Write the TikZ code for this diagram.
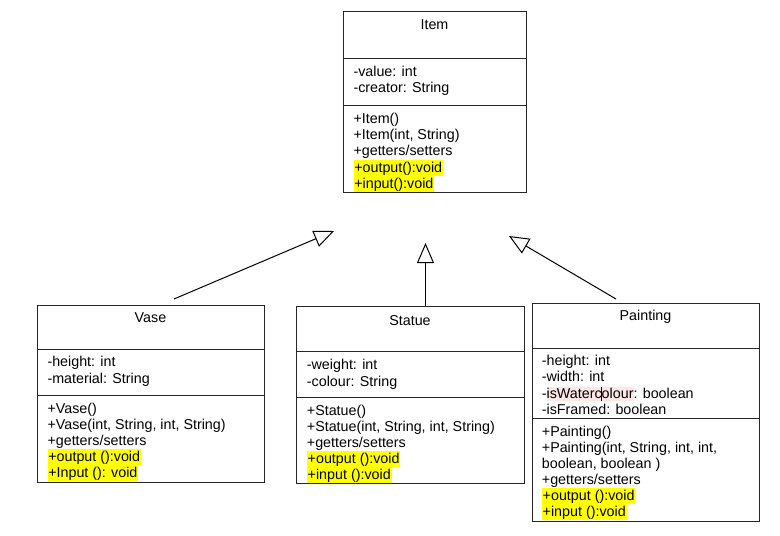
\documentclass[tikz,border=0pt]{standalone}
\usepackage{fontspec}
\setmainfont{Liberation Sans}
\usetikzlibrary{arrows.meta}
\definecolor{hlyellow}{RGB}{255,255,0}
\definecolor{hlpink}{RGB}{252,230,230}
\newcommand\pinkmark[1]{{\setlength\fboxsep{0pt}\colorbox{hlpink}{\vphantom{Ay}#1}}}
\begin{document}
\begin{tikzpicture}[x=1pt,y=-1pt,
 umlbox/.style={draw=black!85, line width=0.8pt, inner sep=0, anchor=north west},
 divider/.style={draw=black!85, line width=0.8pt},
 txt/.style={anchor=base west, inner sep=0, font=\fontsize{14.3}{16}\selectfont},
 ttl/.style={anchor=base, inner sep=0, font=\fontsize{14.3}{16}\selectfont},
 hl/.style={fill=hlyellow, inner xsep=0.8pt, inner ysep=0, text height=12.5pt, text depth=3.7pt},
 inh/.style={line width=1pt, -{Triangle[open, length=20pt, width=17pt, line width=1pt]}}]
\useasboundingbox (0,0) rectangle (780,536);
% Item
\node[umlbox, minimum width=183pt, minimum height=181.5pt] (item) at (343,10.5) {};
\draw[divider] ([yshift=-47.5pt]item.north west) -- ([yshift=-47.5pt]item.north east);
\draw[divider] ([yshift=-94.5pt]item.north west) -- ([yshift=-94.5pt]item.north east);
\node[ttl] (itemT) at (434.5,29) {Item};
\node[txt] (itemA1) at (353.3,76.5) {-value: int};
\node[txt] (itemA2) at (353.3,92.7) {-creator: String};
\node[txt] (itemM1) at (353.3,123.5) {+Item()};
\node[txt] (itemM2) at (353.3,139.7) {+Item(int, String)};
\node[txt] (itemM3) at (353.3,155.9) {+getters/setters};
\node[txt, hl] (itemM4) at (353.3,172.1) {+output():void};
\node[txt, hl] (itemM5) at (353.3,188.3) {+input():void};
% Vase
\node[umlbox, minimum width=227pt, minimum height=177pt] (vase) at (37,305) {};
\draw[divider] ([yshift=-44pt]vase.north west) -- ([yshift=-44pt]vase.north east);
\draw[divider] ([yshift=-90pt]vase.north west) -- ([yshift=-90pt]vase.north east);
\node[ttl] (vaseT) at (150.5,322.7) {Vase};
\node[txt] (vaseA1) at (47.3,366.7) {-height: int};
\node[txt] (vaseA2) at (47.3,383.3) {-material: String};
\node[txt] (vaseM1) at (47.3,413) {+Vase()};
\node[txt] (vaseM2) at (47.3,429) {+Vase(int, String, int, String)};
\node[txt] (vaseM3) at (47.3,445) {+getters/setters};
\node[txt, hl] (vaseM4) at (47.3,461) {+output ():void};
\node[txt, hl] (vaseM5) at (47.3,477) {+Input (): void};
% Statue
\node[umlbox, minimum width=228pt, minimum height=177pt] (statue) at (296,306) {};
\draw[divider] ([yshift=-45.7pt]statue.north west) -- ([yshift=-45.7pt]statue.north east);
\draw[divider] ([yshift=-91pt]statue.north west) -- ([yshift=-91pt]statue.north east);
\node[ttl] (statueT) at (410,325) {Statue};
\node[txt] (statueA1) at (306.7,369.5) {-weight: int};
\node[txt] (statueA2) at (306.7,386) {-colour: String};
\node[txt] (statueM1) at (306.7,415.5) {+Statue()};
\node[txt] (statueM2) at (306.7,431.5) {+Statue(int, String, int, String)};
\node[txt] (statueM3) at (306.7,447.5) {+getters/setters};
\node[txt, hl] (statueM4) at (306.7,463.5) {+output ():void};
\node[txt, hl] (statueM5) at (306.7,479.5) {+input ():void};
% Painting
\node[umlbox, minimum width=227pt, minimum height=218pt] (painting) at (532,303) {};
\draw[divider] ([yshift=-45pt]painting.north west) -- ([yshift=-45pt]painting.north east);
\draw[divider] ([yshift=-115pt]painting.north west) -- ([yshift=-115pt]painting.north east);
\node[ttl] (paintingT) at (645.5,320.7) {Painting};
\node[txt] (paintingA1) at (541.7,365.5) {-height: int};
\node[txt] (paintingA2) at (541.7,381.8) {-width: int};
\node[txt] (paintingA3) at (541.7,398.1) {-\pinkmark{isWaterc\rlap{\kern-0.3pt\rule[-3pt]{0.7pt}{14pt}}olour}: boolean};
\node[txt] (paintingA4) at (541.7,414.4) {-isFramed: boolean};
\node[txt] (paintingM1) at (541.7,436) {+Painting()};
\node[txt] (paintingM2) at (541.7,452) {+Painting(int, String, int, int,};
\node[txt] (paintingM3) at (541.7,468) {boolean, boolean )};
\node[txt] (paintingM4) at (541.7,484) {+getters/setters};
\node[txt, hl] (paintingM5) at (541.7,500) {+output ():void};
\node[txt, hl] (paintingM6) at (541.7,516) {+input ():void};
% inheritance arrows
\coordinate (v1) at (174,299);
\coordinate (t1) at (334,231);
\coordinate (s1) at (425.5,306);
\coordinate (t2) at (425.5,243);
\coordinate (p1) at (616,299);
\coordinate (t3) at (509,236);
\draw[inh] (v1) -- (t1);
\draw[inh] (s1) -- (t2);
\draw[inh] (p1) -- (t3);
\end{tikzpicture}
\end{document}
